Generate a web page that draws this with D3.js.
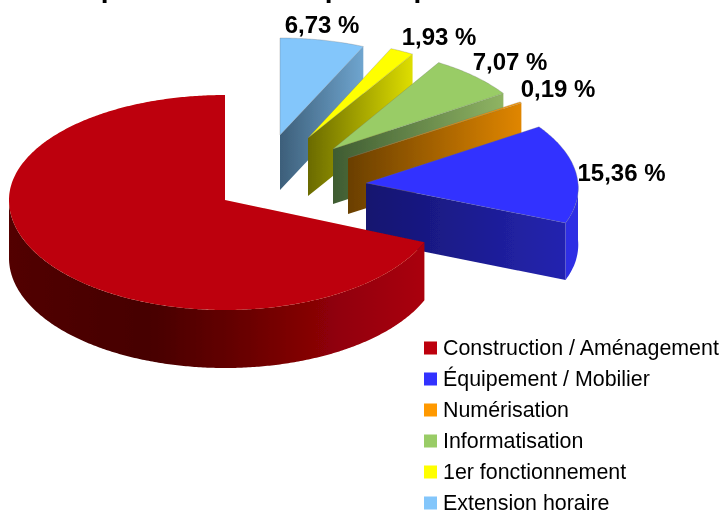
<!DOCTYPE html>
<html><head><meta charset="utf-8">
<script src="https://cdn.jsdelivr.net/npm/d3@7/dist/d3.min.js"></script>
<style>html,body{margin:0;padding:0;background:#fff;overflow:hidden}svg{display:block}</style>
</head><body><svg id="c" width="723" height="510"></svg>
<script>
// Data
const categories = ["Construction / Aménagement","Équipement / Mobilier","Numérisation","Informatisation","1er fonctionnement","Extension horaire"];
const values = [68.72,15.36,0.19,7.07,1.93,6.73];
const labels = [null,"15,36 %","0,19 %","7,07 %","1,93 %","6,73 %"];
const titleText = "Répartition de la dépense par secteur";
// Styles
const colors = ["#bd0008","#3333ff","#ff9900","#99cc66","#ffff00","#83c6fb"];
const outerWall = ["#a00008","#2f2fe4","#d98200","#80a858","#d0d000","#6fa5cf"];
const cutWall = [null,["#14146f","#2424b0"],["#6a3f00","#e08600"],["#3f5c32","#8fb463"],["#6a6a00","#dede00"],["#3d5f7a","#6fa5cf"]];
// Layout: projected pie of each slice (apex position, radii)
const apexX = [225,366,348,333,308,280];
const apexY = [200,183,158,149,138,135];
const radX  = [216,212,206,204,202,203];
const shearX = [0,10,0,0,0,0];
const radBack = [105,104,102,101,98,97];
const radFront= [110,104,102,101,98,97];
const depth = [58,57,56,55,58,55];
const labelX = [0,621.5,558,510,439,322];
const labelY = [0,181,97,70,45,33];

const svg = d3.select("#c");
const defs = svg.append("defs");
defs.append("filter").attr("id","soft").attr("filterUnits","userSpaceOnUse")
  .attr("x",-10).attr("y",-40).attr("width",743).attr("height",560)
  .append("feGaussianBlur").attr("stdDeviation",0.45);
const root = svg.append("g").attr("filter","url(#soft)");
const TAU = 2*Math.PI;
const arcs = d3.pie().sort(null).value(d=>d).startAngle(0).endAngle(-TAU)(values).map((d,i)=>{
  const hi = d.startAngle, lo = d.endAngle;
  return {i, a0: lo+TAU, a1: hi===0 ? TAU : hi+TAU};
});
const pt = (i,a,dz=0)=>{
  const c = Math.cos(a);
  return [apexX[i]+radX[i]*Math.sin(a)-shearX[i]*c, apexY[i]-c*(c>0?radBack[i]:radFront[i])+dz];
};
const samples = (a,b)=>{const n=Math.max(2,Math.ceil((b-a)/0.01));return d3.range(n+1).map(k=>a+(b-a)*k/n);};
const line = d3.line();

// Red wall gradient
const g0 = defs.append("linearGradient").attr("id","wall0");
[[0,"#520000"],[.33,"#460000"],[.55,"#660000"],[.8,"#920008"],[1,"#aa0008"]].forEach(s=>g0.append("stop").attr("offset",s[0]).attr("stop-color",s[1]));
cutWall.forEach((c,i)=>{ if(!c) return;
  const g=defs.append("linearGradient").attr("id","cut"+i);
  g.append("stop").attr("offset",0).attr("stop-color",c[0]);
  g.append("stop").attr("offset",1).attr("stop-color",c[1]);
});

const pie = root.append("g");
arcs.slice().reverse().forEach(s=>{
  const i=s.i, g=pie.append("g");
  // outer wall visible between 90° and 270°
  const w0=Math.max(s.a0,Math.PI/2), w1=Math.min(s.a1,1.5*Math.PI);
  if(w1>w0){
    const as=samples(w0,w1);
    const p=as.map(a=>pt(i,a)).concat(as.slice().reverse().map(a=>pt(i,a,depth[i])));
    g.append("path").attr("d",line(p)+"Z").attr("fill", i===0?"url(#wall0)":outerWall[i]);
  }
  // cut face at the clockwise end
  if(cutWall[i]){
    const ax=[apexX[i],apexY[i]], t=pt(i,s.a1);
    g.append("path").attr("d",line([ax,t,[t[0],t[1]+depth[i]],[ax[0],ax[1]+depth[i]]])+"Z").attr("fill",`url(#cut${i})`);
  }
  // top face
  const top=[[apexX[i],apexY[i]]].concat(samples(s.a0,s.a1).map(a=>pt(i,a)));
  g.append("path").attr("d",line(top)+"Z").attr("fill",colors[i]).attr("stroke","rgba(110,110,110,.35)").attr("stroke-width",i===0?0:.8);
});

// Title (clipped by the top of the picture)
root.append("text").attr("x",65).attr("y",-3).attr("font-family","Liberation Sans").attr("font-weight","bold").attr("font-size",28).attr("fill","#000").text(titleText);

// Labels
labels.forEach((t,i)=>{ if(!t) return;
  root.append("text").attr("x",labelX[i]).attr("y",labelY[i]).attr("text-anchor","middle")
   .attr("font-family","Liberation Sans").attr("font-weight","bold").attr("font-size",24).attr("fill","#000").text(t);
});

// Legend
const legY = d3.scalePoint().domain(categories).range([348,503]);
const leg = root.append("g").selectAll("g").data(categories).join("g").attr("transform",d=>`translate(424,${legY(d)})`);
leg.append("rect").attr("x",0).attr("y",-6.5).attr("width",13).attr("height",13).attr("fill",(d,i)=>colors[i]);
leg.append("text").attr("x",19).attr("y",7).attr("font-family","Liberation Sans").attr("font-size",21.4).attr("fill","#000").text(d=>d);
</script></body></html>
